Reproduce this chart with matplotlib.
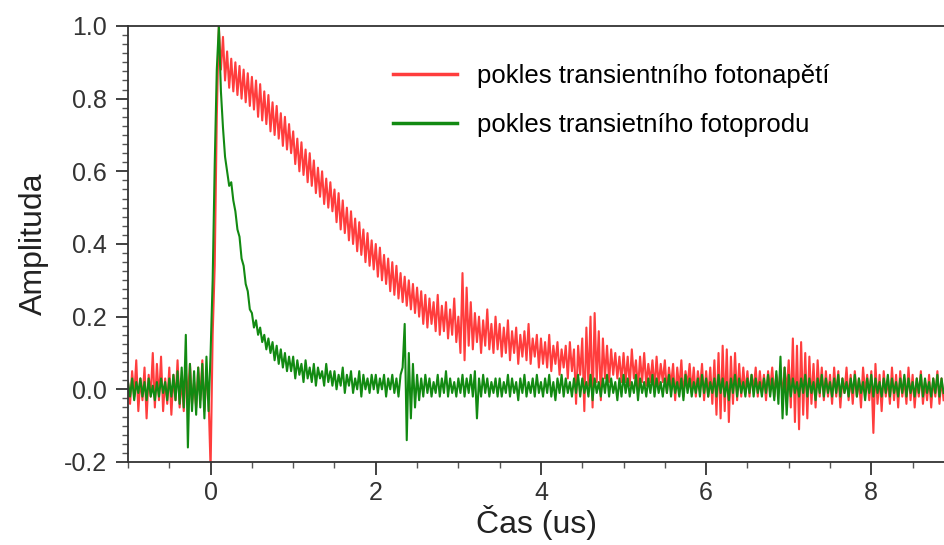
#!/usr/bin/env python3
"""
Transient photovoltage / photocurrent decay (values read off the reference picture)
"""

import numpy as np
import matplotlib
matplotlib.use('Agg')
import matplotlib.pyplot as plt
from matplotlib.ticker import MultipleLocator, FormatStrFormatter

plt.rcParams['font.family'] = ['Liberation Sans', 'DejaVu Sans']

# time axis sampling (us), one value every 0.025 us
t_start = -1.0
t_step = 0.025

# red: pokles transientniho fotonapeti (rows of 0.5 us)
red_vals = [
	0.02, -0.04, 0.05, -0.02, 0.08, -0.06, 0.03, -0.03, 0.06, -0.08, 0.04, -0.02, 0.10, -0.05, 0.07, -0.03, 0.09, -0.06, 0.03, -0.04,
	0.06, -0.07, 0.04, -0.03, 0.08, -0.05, 0.03, -0.06, 0.05, -0.02, 0.07, -0.04, 0.02, -0.05, 0.06, -0.03, 0.08, -0.06, 0.04, -0.02,
	-0.22, 0.15, 0.34, 0.75, 1.00, 0.88, 0.97, 0.85, 0.93, 0.83, 0.91, 0.82, 0.90, 0.81, 0.89, 0.80, 0.88, 0.79, 0.87, 0.78,
	0.86, 0.77, 0.85, 0.75, 0.84, 0.74, 0.82, 0.73, 0.81, 0.71, 0.79, 0.70, 0.78, 0.69, 0.76, 0.67, 0.75, 0.66, 0.73, 0.65,
	0.71, 0.62, 0.69, 0.60, 0.68, 0.59, 0.66, 0.57, 0.65, 0.56, 0.63, 0.54, 0.61, 0.53, 0.60, 0.51, 0.58, 0.50, 0.57, 0.49,
	0.55, 0.46, 0.54, 0.44, 0.52, 0.43, 0.50, 0.41, 0.49, 0.40, 0.47, 0.38, 0.46, 0.37, 0.44, 0.35, 0.43, 0.34, 0.41, 0.33,
	0.40, 0.31, 0.39, 0.30, 0.37, 0.29, 0.36, 0.27, 0.35, 0.26, 0.34, 0.25, 0.32, 0.24, 0.31, 0.23, 0.30, 0.22, 0.29, 0.21,
	0.28, 0.20, 0.27, 0.18, 0.26, 0.17, 0.25, 0.18, 0.24, 0.16, 0.26, 0.15, 0.23, 0.16, 0.24, 0.14, 0.22, 0.15, 0.25, 0.13,
	0.20, 0.10, 0.32, 0.08, 0.28, 0.12, 0.24, 0.11, 0.21, 0.13, 0.20, 0.10, 0.19, 0.12, 0.22, 0.11, 0.18, 0.10, 0.20, 0.11,
	0.18, 0.09, 0.17, 0.10, 0.19, 0.08, 0.16, 0.10, 0.17, 0.07, 0.15, 0.09, 0.16, 0.08, 0.18, 0.07, 0.14, 0.09, 0.15, 0.06,
	0.14, 0.07, 0.13, 0.06, 0.15, 0.05, 0.12, 0.07, 0.13, 0.04, 0.11, 0.06, 0.12, 0.03, 0.13, 0.05, 0.11, -0.04, 0.12, 0.04,
	0.14, -0.06, 0.17, 0.01, 0.20, -0.05, 0.21, 0.02, 0.16, -0.03, 0.14, 0.03, 0.12, 0.02, 0.11, 0.04, 0.10, 0.03, 0.09, 0.02,
	0.10, 0.02, 0.09, 0.01, 0.11, 0.03, 0.08, 0.00, 0.09, 0.02, 0.10, 0.01, 0.07, 0.02, 0.08, 0.00, 0.09, 0.01, 0.07, 0.02,
	0.08, -0.01, 0.06, 0.01, 0.07, -0.03, 0.06, 0.00, 0.08, -0.02, 0.05, 0.01, 0.07, -0.01, 0.06, -0.02, 0.05, 0.00, 0.07, -0.03,
	0.05, -0.02, 0.06, -0.04, 0.08, -0.07, 0.10, -0.08, 0.12, -0.06, 0.11, -0.09, 0.09, -0.04, 0.10, -0.03, 0.07, -0.02, 0.06, -0.01,
	0.05, -0.02, 0.04, 0.00, 0.06, -0.02, 0.05, -0.01, 0.04, -0.03, 0.05, 0.00, 0.06, -0.02, 0.04, -0.01, 0.05, -0.02, 0.06, -0.01,
	0.08, -0.05, 0.14, -0.09, 0.12, -0.11, 0.13, -0.07, 0.10, -0.08, 0.09, -0.04, 0.07, -0.05, 0.08, -0.02, 0.06, -0.03, 0.05, -0.02,
	0.04, -0.04, 0.06, -0.02, 0.05, -0.05, 0.03, -0.01, 0.06, -0.03, 0.04, -0.04, 0.05, -0.02, 0.03, -0.05, 0.06, -0.01, 0.04, -0.03,
	0.05, -0.12, 0.07, -0.04, 0.04, -0.06, 0.05, -0.02, 0.03, -0.04, 0.06, -0.03, 0.04, -0.05, 0.05, -0.02, 0.03, -0.04, 0.06, -0.03,
	0.04, -0.05, 0.03, -0.02, 0.05, -0.04, 0.02, -0.03, 0.04, -0.05, 0.03, -0.02, 0.05, -0.04, 0.03, -0.03,
]

# green: pokles transietniho fotoprodu
green_vals = [
	0.02, -0.02, 0.03, -0.03, 0.02, -0.01, 0.03, -0.02, 0.02, -0.03, 0.03, -0.02, 0.01, -0.03, 0.02, -0.02, 0.03, -0.01, 0.02, -0.03,
	0.03, -0.02, 0.04, -0.03, 0.05, -0.04, 0.06, -0.05, 0.15, -0.16, 0.07, -0.06, 0.05, -0.07, 0.06, -0.05, 0.07, -0.08, 0.09, -0.06,
	0.10, 0.30, 0.62, 0.88, 1.00, 0.82, 0.72, 0.64, 0.60, 0.56, 0.57, 0.52, 0.49, 0.44, 0.42, 0.36, 0.34, 0.29, 0.27, 0.22,
	0.21, 0.17, 0.19, 0.15, 0.17, 0.13, 0.15, 0.11, 0.14, 0.10, 0.13, 0.08, 0.12, 0.07, 0.11, 0.06, 0.10, 0.05, 0.09, 0.05,
	0.09, 0.03, 0.08, 0.04, 0.07, 0.02, 0.08, 0.03, 0.06, 0.02, 0.07, 0.01, 0.06, 0.03, 0.05, 0.01, 0.07, 0.02, 0.05, 0.01,
	0.05, 0.00, 0.04, 0.01, 0.06, -0.01, 0.04, 0.01, 0.05, -0.01, 0.03, 0.00, 0.05, -0.02, 0.04, 0.00, 0.03, -0.01, 0.04, 0.00,
	0.04, -0.01, 0.03, 0.00, 0.04, -0.02, 0.03, 0.00, 0.04, -0.01, 0.03, -0.02, 0.04, 0.06, 0.18, -0.14, 0.10, -0.08, 0.07, -0.05,
	0.04, -0.03, 0.03, -0.02, 0.04, -0.01, 0.03, -0.02, 0.02, -0.01, 0.04, -0.02, 0.03, -0.01, 0.05, -0.02, 0.03, -0.01, 0.02, -0.02,
	0.03, -0.01, 0.04, -0.02, 0.03, -0.01, 0.04, -0.02, 0.05, -0.08, 0.03, -0.02, 0.04, -0.01, 0.03, -0.02, 0.02, -0.01, 0.03, -0.02,
	0.03, -0.02, 0.02, -0.01, 0.04, -0.02, 0.03, -0.01, 0.02, -0.03, 0.03, -0.01, 0.04, -0.02, 0.02, -0.01, 0.03, -0.02, 0.04, -0.01,
	0.02, -0.02, 0.03, -0.01, 0.04, -0.02, 0.02, -0.03, 0.03, -0.01, 0.04, -0.02, 0.03, -0.01, 0.02, -0.02, 0.03, -0.01, 0.04, -0.02,
	0.03, -0.01, 0.02, -0.02, 0.04, -0.03, 0.03, -0.01, 0.02, -0.02, 0.03, -0.01, 0.04, -0.02, 0.03, -0.01, 0.02, -0.03, 0.03, -0.02,
	0.04, -0.01, 0.03, -0.02, 0.02, -0.01, 0.04, -0.03, 0.03, -0.01, 0.02, -0.02, 0.03, -0.01, 0.04, -0.02, 0.03, -0.01, 0.02, -0.02,
	0.03, -0.01, 0.04, -0.02, 0.03, -0.01, 0.02, -0.02, 0.03, -0.03, 0.04, -0.01, 0.03, -0.02, 0.02, -0.01, 0.03, -0.02, 0.04, -0.01,
	0.03, -0.02, 0.02, -0.01, 0.03, -0.02, 0.04, -0.01, 0.03, -0.02, 0.02, -0.03, 0.03, -0.01, 0.04, -0.02, 0.03, -0.01, 0.02, -0.02,
	0.03, -0.01, 0.04, -0.02, 0.03, -0.01, 0.02, -0.02, 0.03, -0.01, 0.04, -0.02, 0.03, -0.03, 0.05, -0.04, 0.09, -0.08, 0.06, -0.07,
	0.04, -0.02, 0.03, -0.01, 0.02, -0.02, 0.03, -0.01, 0.04, -0.02, 0.03, -0.01, 0.02, -0.03, 0.03, -0.01, 0.04, -0.02, 0.03, -0.01,
	0.02, -0.02, 0.03, -0.01, 0.04, -0.02, 0.03, -0.01, 0.02, -0.02, 0.03, -0.01, 0.04, -0.02, 0.03, -0.01, 0.02, -0.03, 0.03, -0.01,
	0.04, -0.02, 0.03, -0.01, 0.02, -0.02, 0.03, -0.01, 0.04, -0.02, 0.03, -0.01, 0.02, -0.02, 0.03, -0.01, 0.04, -0.02, 0.03, -0.01,
	0.02, -0.02, 0.03, -0.01, 0.04, -0.02, 0.03, -0.01, 0.02, -0.02, 0.03, -0.01, 0.04, -0.02, 0.03, -0.01,
]

x_ticks = [0, 2, 4, 6, 8]
y_ticks = [-0.2, 0.0, 0.2, 0.4, 0.6, 0.8, 1.0]
labels = ['pokles transientního fotonapětí', 'pokles transietního fotoprodu']

t_red = t_start + t_step * np.arange(len(red_vals))
t_green = t_start + t_step * np.arange(len(green_vals))

fig = plt.figure(figsize=(9.44, 5.45), dpi=100)
ax = fig.add_axes([0.1356, 0.1523, 0.8644, 0.80])

ax.plot(t_red, red_vals, color='#ff3d3d', lw=1.5, label=labels[0])
ax.plot(t_green, green_vals, color='#128a12', lw=1.5, label=labels[1])

ax.set_xlim(-1.0, 8.88)
ax.set_ylim(-0.2, 1.0)
ax.set_xticks(x_ticks)
ax.set_yticks(y_ticks)
ax.xaxis.set_minor_locator(MultipleLocator(0.5))
ax.yaxis.set_minor_locator(MultipleLocator(0.025))
ax.yaxis.set_major_formatter(FormatStrFormatter('%.1f'))
ax.tick_params(which='major', direction='out', length=9, width=1.3, labelsize=18, colors='#333333')
ax.tick_params(which='minor', direction='out', length=4, width=1.0, colors='#555555')
ax.tick_params(axis='x', which='major', pad=5)
ax.tick_params(axis='y', which='major', pad=6)
for sp in ['left', 'top', 'bottom']:
	ax.spines[sp].set_linewidth(1.3)
	ax.spines[sp].set_color('#333333')
ax.spines['right'].set_visible(False)

ax.set_xlabel('Čas (us)', fontsize=23, labelpad=0, color='#222222')
ax.set_ylabel('Amplituda', fontsize=23, labelpad=11, color='#222222')

leg = ax.legend(loc='upper left', bbox_to_anchor=(0.4163, 0.883), bbox_transform=fig.transFigure,
	frameon=False, fontsize=18.5, handlelength=2.5, handletextpad=0.78, labelspacing=0.98,
	borderpad=0, borderaxespad=0)
for line in leg.get_lines():
	line.set_linewidth(2.5)

fig.savefig('out.png', dpi=100)
